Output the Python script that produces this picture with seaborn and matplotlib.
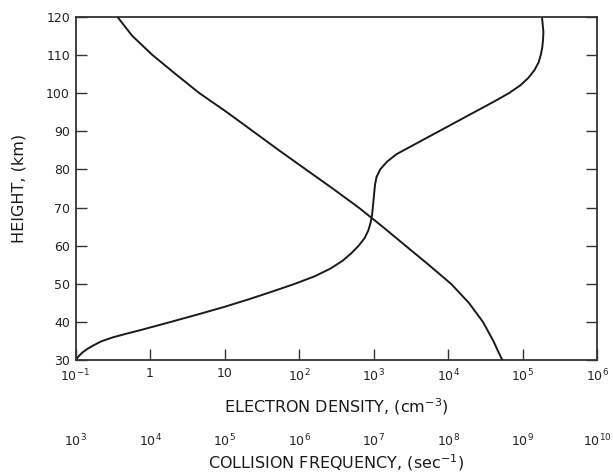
import numpy as np
import pandas as pd
import matplotlib
matplotlib.use("Agg")
import matplotlib.pyplot as plt
import seaborn as sns

# ---- data ----
ne_height = [30, 31, 32, 33, 34, 35, 36, 37, 38, 39, 40,
             42, 44, 46, 48, 50, 52, 54, 56, 58, 60,
             62, 64, 66, 68, 70, 72, 74, 76, 78, 80,
             82, 84, 86, 88, 90, 92, 94, 96, 98, 100,
             102, 104, 106, 108, 110, 112, 114, 116, 118, 120]
ne_density = [0.1, 0.1096, 0.123, 0.1445, 0.1778, 0.2239, 0.3162, 0.4898, 0.7762, 1.202, 1.862,
              4.365, 10.0, 21.38, 43.65, 87.10, 162.2, 263.0, 380.2, 501.2, 631.0,
              758.6, 851.1, 912.0, 955.0, 977.2, 1000, 1023, 1047, 1096, 1230,
              1514, 2042, 3162, 4898, 7586, 11749, 18197, 28184, 43652, 66069,
              93325, 120226, 144544, 164059, 175792, 184077, 188365, 190546, 186209, 181970]

nu_height = [30, 32, 35, 40, 45, 50, 55, 60, 65, 70,
             75, 80, 85, 90, 95, 100, 105, 110, 115, 120]
nu_freq = [5.37e8, 4.79e8, 4.07e8, 2.95e8, 1.91e8, 1.10e8, 5.50e7, 2.69e7, 1.32e7, 6.31e6,
           2.82e6, 1.23e6, 5.37e5, 2.40e5, 1.07e5, 4.57e4, 2.19e4, 1.07e4, 5.75e3, 3.63e3]

ne_ticks = [1e-1, 1, 10, 1e2, 1e3, 1e4, 1e5, 1e6]
ne_ticklabels = [r"$10^{-1}$", "1", "10", r"$10^{2}$", r"$10^{3}$", r"$10^{4}$", r"$10^{5}$", r"$10^{6}$"]
nu_ticks = [1e3, 1e4, 1e5, 1e6, 1e7, 1e8, 1e9, 1e10]
nu_ticklabels = [r"$10^{3}$", r"$10^{4}$", r"$10^{5}$", r"$10^{6}$", r"$10^{7}$", r"$10^{8}$", r"$10^{9}$", r"$10^{10}$"]
height_ticks = [30, 40, 50, 60, 70, 80, 90, 100, 110, 120]

# ---- plotting ----
sns.set_style("ticks")
plt.rcParams["font.family"] = ["DejaVu Sans"]
plt.rcParams["mathtext.fontset"] = "dejavusans"

fig = plt.figure(figsize=(6.13, 4.75), dpi=100)
ax = fig.add_axes([0.1232, 0.2415, 0.8508, 0.7235])

df_ne = pd.DataFrame({"density": ne_density, "height": ne_height})
df_nu = pd.DataFrame({"freq": nu_freq, "height": nu_height})

sns.lineplot(data=df_ne, x="density", y="height", ax=ax, sort=False,
             color="#1a1a1a", linewidth=1.4, estimator=None)
ax.set_xscale("log")
ax.set_xlim(1e-1, 1e6)
ax.set_ylim(30, 120)
ax.set_xticks(ne_ticks)
ax.set_xticklabels(ne_ticklabels)
ax.xaxis.set_minor_locator(matplotlib.ticker.NullLocator())
ax.set_yticks(height_ticks)
ax.tick_params(direction="in", top=True, right=True, length=8, width=1.0,
               colors="#333333", labelsize=9, labelcolor="#222222", pad=4)
ax.tick_params(axis="x", pad=5)
for s in ax.spines.values():
    s.set_linewidth(1.3)
    s.set_color("#333333")
ax.set_xlabel("ELECTRON DENSITY, (cm$^{-3}$)", fontsize=11.5, color="#1a1a1a", labelpad=9)
ax.set_ylabel("HEIGHT, (km)", fontsize=11.5, color="#1a1a1a", labelpad=14)

ax2 = ax.twiny()
sns.lineplot(data=df_nu, x="freq", y="height", ax=ax2, sort=False,
             color="#1a1a1a", linewidth=1.4, estimator=None)
ax2.set_xscale("log")
ax2.set_xlim(1e3, 1e10)
ax2.set_ylim(30, 120)
ax2.set_xticks(nu_ticks)
ax2.set_xticklabels(nu_ticklabels)
ax2.xaxis.set_minor_locator(matplotlib.ticker.NullLocator())
ax2.xaxis.set_ticks_position("bottom")
ax2.xaxis.set_label_position("bottom")
ax2.spines["bottom"].set_position(("outward", 48))
for s in ax2.spines.values():
    s.set_visible(False)
ax2.tick_params(axis="x", length=0, labelsize=9, labelcolor="#222222", pad=4)
ax2.set_xlabel("COLLISION FREQUENCY, (sec$^{-1}$)", fontsize=11.5, color="#1a1a1a", labelpad=2)
ax2.set_ylabel("")

fig.savefig("out.png", dpi=100, facecolor="white")
